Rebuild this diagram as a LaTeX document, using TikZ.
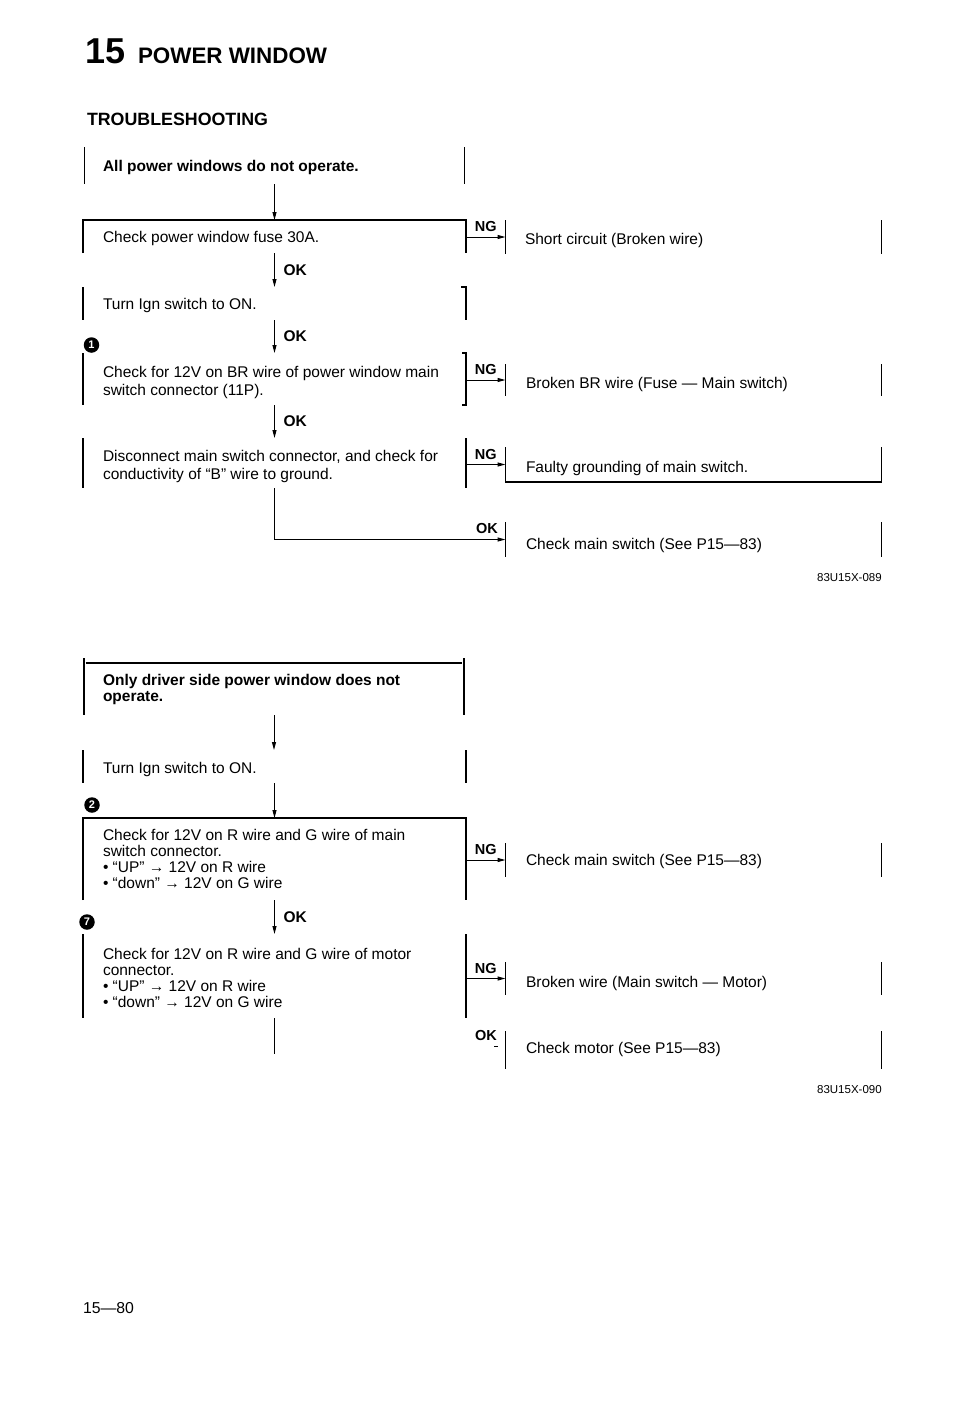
\documentclass[tikz,border=0pt]{standalone}
\usepackage{fontspec}
\setmainfont{Liberation Sans}
\usetikzlibrary{arrows.meta,calc}
\newcommand\boxtxt[1]{\parbox[t]{400pt}{\raggedright #1}}
\begin{document}
\begin{tikzpicture}[x=1pt,y=-1pt,
 every node/.style={inner sep=0pt,outer sep=0pt},
 frame/.style={rectangle,draw=none},
 bar/.style={line width=1.3pt},
 dbarl/.style={line width=1.1pt,xshift=-1.6pt},
 dbarr/.style={line width=1.1pt,xshift=1.6pt},
 arr/.style={line width=1pt,-{Triangle[length=8pt,width=4pt]}},
 link/.style={line width=1pt},
 body/.style={anchor=base west,font=\fontsize{15.5}{17.7}\selectfont},
 bodyt/.style={anchor=base west,font=\fontsize{15.5}{16}\selectfont},
 title/.style={anchor=base west,font=\fontsize{15.5}{16}\selectfont\bfseries},
 oklab/.style={font=\fontsize{15.5}{16}\selectfont\bfseries},
 nglab/.style={font=\fontsize{14.5}{15}\selectfont\bfseries},
 badge/.style={circle,fill=black,text=white,minimum size=15.5pt,font=\fontsize{11}{11}\selectfont\bfseries},
 code/.style={anchor=base east,font=\fontsize{11.5}{12}\selectfont},
]
\useasboundingbox[fill=white] (0,0) rectangle (960,1417);

% header
\node[anchor=base west,font=\fontsize{36}{36}\selectfont\bfseries] (h15) at (85,63) {15};
\node[anchor=base west,font=\fontsize{22.4}{24}\selectfont\bfseries] (hpw) at (138,63) {POWER WINDOW};
\node[anchor=base west,font=\fontsize{17.8}{20}\selectfont\bfseries] (hts) at (87,125) {TROUBLESHOOTING};

% ---------------- chart 1 ----------------
\node[frame,minimum width=380pt,minimum height=37pt] (A) at (274.5,165.5) {};
\node[frame,minimum width=383pt,minimum height=33pt] (B) at (274.5,236.5) {};
\node[frame,minimum width=383pt,minimum height=33pt] (C) at (274.5,303.5) {};
\node[frame,minimum width=383pt,minimum height=52pt] (D) at (274.5,379) {};
\node[frame,minimum width=383pt,minimum height=50pt] (E) at (274.5,463) {};
\node[frame,minimum width=376pt,minimum height=34pt] (R1) at (693.5,237) {};
\node[frame,minimum width=376pt,minimum height=32pt] (R2) at (693.5,380) {};
\node[frame,minimum width=376pt,minimum height=35pt] (R3) at (693.5,464.5) {};
\node[frame,minimum width=376pt,minimum height=35pt] (R4) at (693.5,539.5) {};

\draw[dbarl] (A.north west) -- (A.south west);
\draw[dbarr] (A.north west) -- (A.south west);
\draw[dbarl] (A.north east) -- (A.south east);
\draw[dbarr] (A.north east) -- (A.south east);
\draw[bar] (B.south west) -- (B.north west) -- (B.north east) -- (B.south east);
\draw[bar] (C.north west) -- (C.south west);
\draw[bar] ($(C.north east)+(-5,0)$) -- (C.north east) -- (C.south east);
\draw[bar] (D.north west) -- (D.south west);
\draw[bar] ($(D.north east)+(-4,0)$) -- (D.north east) -- (D.south east) -- ++(-4,0);
\draw[bar] (E.north west) -- (E.south west);
\draw[bar] (E.north east) -- (E.south east);
\foreach \r in {R1,R2,R4}{
  \draw[bar] (\r.north west) -- (\r.south west);
  \draw[bar] (\r.north east) -- (\r.south east);
}
\draw[bar] (R3.north west) -- (R3.south west) -- (R3.south east) -- (R3.north east);

\node[title] (tA) at (103,171.7) {All power windows do not operate.};
\node[body] (tB) at (103,242.7) {Check power window fuse 30A.};
\node[body] (tC) at (103,309.3) {Turn Ign switch to ON.};
\node[body] (tD) at (103,377.3) {\boxtxt{Check for 12V on BR wire of power window main\\switch connector (11P).}};
\node[body] (tE) at (103,461.7) {\boxtxt{Disconnect main switch connector, and check for\\conductivity of “B” wire to ground.}};
\node[body] (tR1) at (525,244.3) {Short circuit (Broken wire)};
\node[body] (tR2) at (526,388.3) {Broken BR wire (Fuse — Main switch)};
\node[body] (tR3) at (526,472.3) {Faulty grounding of main switch.};
\node[body] (tR4) at (526,549) {Check main switch (See P15—83)};
\node[code] (c89) at (881.7,581) {83U15X-089};

\node[badge] (n1) at (91.5,345) {1};

\draw[arr] (A.south) -- (B.north);
\draw[arr] (B.south) -- node[oklab,right=9pt] (ok1) {OK} (C.north);
\draw[arr] (C.south) -- node[oklab,right=9pt] (ok2) {OK} (D.north);
\draw[arr] (D.south) -- node[oklab,right=9pt] (ok3) {OK} (E.north);
\draw[arr] (R1.west -| B.east) -- node[nglab,above=5pt] (ng1) {NG} (R1.west);
\draw[arr] (R2.west -| D.east) -- node[nglab,above=5pt] (ng2) {NG} (R2.west);
\draw[arr] (R3.west -| E.east) -- node[nglab,above=5pt] (ng3) {NG} (R3.west);
\draw[arr] (E.south) |- node[nglab,above=6pt,pos=0.96] (ok4) {OK} (R4.west);

% ---------------- chart 2 ----------------
\node[frame,minimum width=380pt,minimum height=57pt] (F) at (274,686.5) {};
\node[frame,minimum width=383pt,minimum height=33pt] (G) at (274.5,766.5) {};
\node[frame,minimum width=383pt,minimum height=82pt] (H) at (274.5,859) {};
\node[frame,minimum width=383pt,minimum height=84pt] (J) at (274.5,976) {};
\node[frame,minimum width=376pt,minimum height=34pt] (R5) at (693.5,860) {};
\node[frame,minimum width=376pt,minimum height=33pt] (R6) at (693.5,978.5) {};
\node[frame,minimum width=376pt,minimum height=38pt] (R7) at (693.5,1050) {};

\draw[dbarl] (F.north west) -- (F.south west);
\draw[dbarr] (F.north west) -- (F.south west);
\draw[dbarl] (F.north east) -- (F.south east);
\draw[dbarr] (F.north east) -- (F.south east);
\draw[bar] ($(F.north west)+(1.6,5)$) -- ($(F.north east)+(-1.6,5)$);
\draw[bar] (G.north west) -- (G.south west);
\draw[bar] (G.north east) -- (G.south east);
\draw[bar] (H.south west) -- (H.north west) -- (H.north east) -- (H.south east);
\draw[bar] (J.north west) -- (J.south west);
\draw[bar] (J.north east) -- (J.south east);
\foreach \r in {R5,R6,R7}{
  \draw[bar] (\r.north west) -- (\r.south west);
  \draw[bar] (\r.north east) -- (\r.south east);
}

\node[title] (tF) at (103,685) {\boxtxt{Only driver side power window does not\\operate.}};
\node[body] (tG) at (103,773.3) {Turn Ign switch to ON.};
\node[bodyt] (tH) at (103,840) {\boxtxt{Check for 12V on R wire and G wire of main\\switch connector.\\• “UP” → 12V on R wire\\• “down” → 12V on G wire}};
\node[bodyt] (tJ) at (103,959) {\boxtxt{Check for 12V on R wire and G wire of motor\\connector.\\• “UP” → 12V on R wire\\• “down” → 12V on G wire}};
\node[body] (tR5) at (526,865) {Check main switch (See P15—83)};
\node[body] (tR6) at (526,987) {Broken wire (Main switch — Motor)};
\node[body] (tR7) at (526,1053) {Check motor (See P15—83)};
\node[code] (c90) at (881.7,1093) {83U15X-090};

\node[badge] (n2) at (92,805) {2};
\node[badge] (n7) at (87,922) {7};

\draw[arr] (F.south) -- (F.south |- G.north);
\draw[arr] (G.south) -- (H.north);
\draw[arr] (H.south) -- node[oklab,right=9pt] (ok5) {OK} (J.north);
\draw[arr] (R5.west -| H.east) -- node[nglab,above=5pt] (ng4) {NG} (R5.west);
\draw[arr] (R6.west -| J.east) -- node[nglab,above=5pt] (ng5) {NG} (R6.west);
\coordinate (jend) at (274.5,1054);
\draw[link] (J.south) -- (jend);
\node[nglab,anchor=base west] (ok6) at (475,1040) {OK};
\coordinate (d1) at (494,1046.5);
\coordinate (d2) at (498,1046.5);
\draw[link] (d1) -- (d2);

% footer
\node[anchor=base west,font=\fontsize{15.8}{16}\selectfont] (pg) at (83,1313) {15—80};
\end{tikzpicture}
\end{document}
